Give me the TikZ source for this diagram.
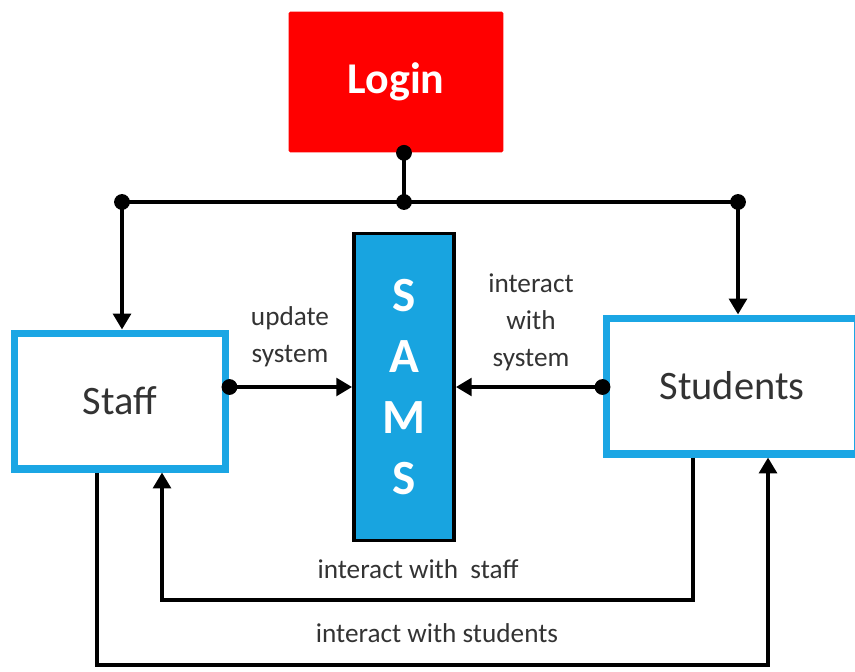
\documentclass[tikz,border=0pt]{standalone}
\usepackage{fontspec}
\setmainfont{Carlito}
\usetikzlibrary{arrows.meta}
\definecolor{loginred}{HTML}{FF0000}
\definecolor{samsblue}{HTML}{18A4E0}
\definecolor{frameblue}{HTML}{1BA6E4}
\tikzset{
wire/.style={line width=2.8pt}, % plain connector
link/.style={wire, -{Triangle[length=9pt,width=10pt]}}, % connector with arrow head
loginbox/.style={fill=loginred, rounded corners=1pt, minimum width=4.3cm, minimum height=2.82cm, text=white, font=\fontsize{25}{30}\selectfont\bfseries},
actor/.style={draw=frameblue, line width=4pt, fill=white, minimum height=2.72cm, text=black!80, font=\fontsize{23}{27}\selectfont}, % Staff / Students
samsbox/.style={draw=black, line width=2.2pt, fill=samsblue, minimum width=2cm, minimum height=6.14cm, align=center, text=white, font=\fontsize{28}{34.6}\selectfont\bfseries},
flowtext/.style={text=black!80, align=center, font=\fontsize{15.5}{21}\selectfont}, % texts on the connectors
}

\begin{document}
\begin{tikzpicture}[x=0.02cm, y=-0.02cm]
\useasboundingbox (0,0) rectangle (855,672);

\node[loginbox] (login) at (396,82) {Login};
\node[actor, minimum width=4.24cm] (staff) at (120,401) {Staff};
\node[actor, minimum width=5.04cm] (students) at (732,386) {Students};
\node[samsbox] (sams) at (404,387) {S\\A\\M\\S};

% login splits to both users
\coordinate (split) at (404,202);
\coordinate (staffdrop) at (122,202);
\coordinate (studdrop) at (738,202);
\draw[wire] (login.south -| split) -- (split);
\draw[wire] (staffdrop) -- (studdrop);
\draw[link] (staffdrop) -- (staffdrop |- staff.north);
\draw[link] (studdrop) -- (studdrop |- students.north);
\fill (login.south -| split) circle (4.5pt) (split) circle (4.5pt)
      (staffdrop) circle (4.5pt) (studdrop) circle (4.5pt);

% users to system
\draw[link] (staff.east |- sams) -- (sams.west);
\draw[link] (students.west |- sams) -- (sams.east);
\fill (staff.east |- sams) circle (4.5pt) (students.west |- sams) circle (4.5pt);
\node[flowtext] (upd) at (290,337) {update\\system};
\node[flowtext] (iwsys) at (531,322) {interact\\with\\system};

% users to each other
\coordinate (in1) at (693,600);
\coordinate (in2) at (162,600);
\coordinate (out1) at (97,665);
\coordinate (out2) at (768,665);
\draw[link] (students.south -| in1) -- (in1) -- (in2) -- (in2 |- staff.south);
\draw[link] (staff.south -| out1) -- (out1) -- (out2) -- (out2 |- students.south);
\node[flowtext] (iwstaff) at (418,569) {interact with\ \ staff};
\node[flowtext] (iwstud) at (437,633) {interact with students};
\end{tikzpicture}
\end{document}
